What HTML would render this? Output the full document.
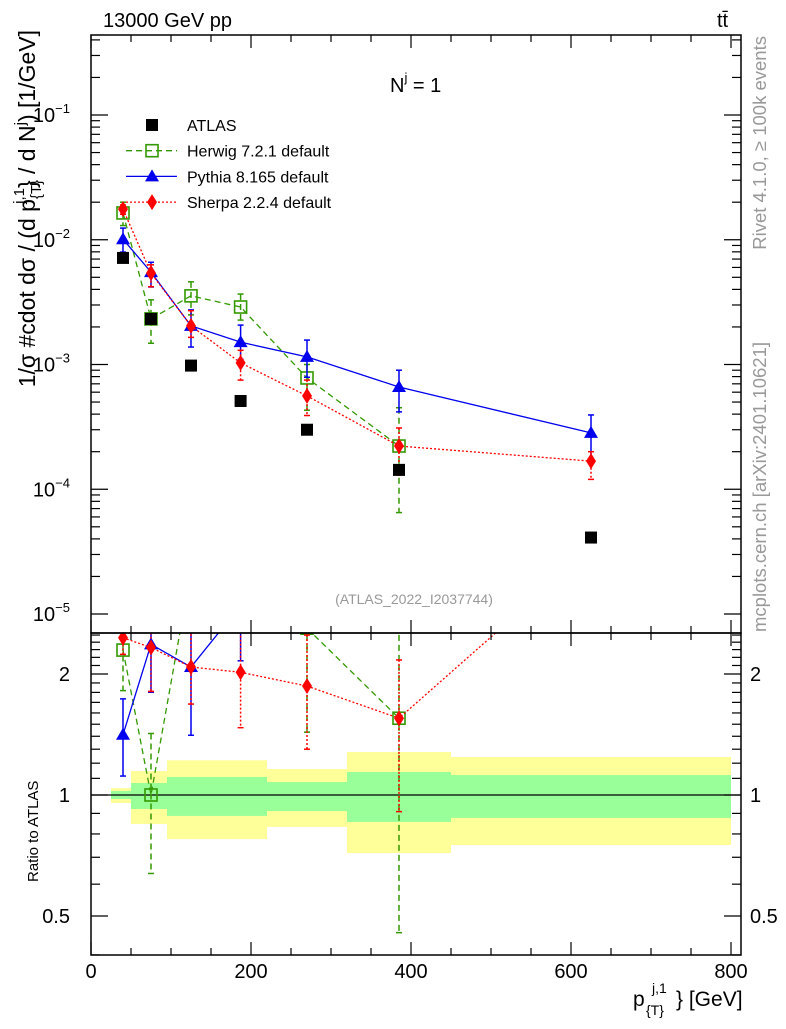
<!DOCTYPE html>
<html><head><meta charset="utf-8"><style>
body{margin:0;background:#fff}
svg{font-family:"Liberation Sans",sans-serif}
</style></head><body>
<svg id="c" width="786" height="1024" viewBox="0 0 786 1024" xmlns="http://www.w3.org/2000/svg">
<defs>
<clipPath id="mainClip"><rect x="91" y="35" width="650" height="598"/></clipPath>
<clipPath id="ratioClip"><rect x="91" y="633" width="650" height="322"/></clipPath>
</defs>
<g id="bands" clip-path="url(#ratioClip)"></g>
<line x1="91" x2="741" y1="795" y2="795" stroke="#000" stroke-width="1.2"/>
<g id="series"></g>
<g id="axes"></g>
<rect x="91" y="35" width="650" height="598" fill="none" stroke="#000" stroke-width="1.5"/>
<rect x="91" y="633" width="650" height="322" fill="none" stroke="#000" stroke-width="1.5"/>
<text x="103" y="27" font-size="20">13000 GeV pp</text>
<text x="717" y="27" font-size="20">tt̄</text>
<text x="390" y="92" font-size="20">N<tspan dy="-10" font-size="13">j</tspan><tspan dy="10"> = 1</tspan></text>
<text x="414" y="604" font-size="14" fill="#999" text-anchor="middle">(ATLAS_2022_I2037744)</text>
<text transform="translate(766,36) rotate(-90)" text-anchor="end" font-size="18.5" fill="#999">Rivet 4.1.0, ≥ 100k events</text>
<text transform="translate(766,632) rotate(-90)" font-size="18.5" fill="#999">mcplots.cern.ch [arXiv:2401.10621]</text>
<text transform="translate(35,30) rotate(-90)" text-anchor="end" font-size="23">1/σ #cdot dσ / (d p<tspan dy="6" font-size="15">{T}</tspan><tspan dx="-24" dy="-17" font-size="15">j,1</tspan><tspan dy="11">} / d N</tspan><tspan dy="-10" font-size="15">j</tspan><tspan dy="10">) [1/GeV]</tspan></text>
<text transform="translate(38,882) rotate(-90)" font-size="15">Ratio to ATLAS</text>
<g>
<text x="633" y="1006" font-size="21">p</text>
<text x="646" y="1015" font-size="14">{T}</text>
<text x="652" y="993" font-size="14">j,1</text>
<text x="676" y="1006" font-size="21">} [GeV]</text>
</g>
<g id="legend"></g>
</svg>
<script>
// ---- data ----
const xPts = [40, 75, 125, 187, 270, 385, 625];
const binEdges = [25, 50, 95, 220, 320, 450, 800];
const atlas = [7.15e-3, 2.32e-3, 9.8e-4, 5.1e-4, 3.0e-4, 1.43e-4, 4.1e-5];
const herwig = [1.64e-2, 2.32e-3, 3.55e-3, 2.89e-3, 7.8e-4, 2.22e-4, null];
const herwigHi = [2.0e-2, 3.3e-3, 4.6e-3, 3.67e-3, 1.0e-3, 4.5e-4, null];
const herwigLo = [1.3e-2, 1.48e-3, 2.5e-3, 2.27e-3, 4.3e-4, 6.5e-5, null];
const pythia = [1.01e-2, 5.5e-3, 2.04e-3, 1.51e-3, 1.15e-3, 6.6e-4, 2.83e-4];
const pythiaHi = [1.24e-2, 6.6e-3, 2.74e-3, 2.07e-3, 1.57e-3, 9.0e-4, 3.94e-4];
const pythiaLo = [7.97e-3, 4.18e-3, 1.38e-3, 1.1e-3, 7.9e-4, 4.17e-4, 1.62e-4];
const sherpa = [1.76e-2, 5.4e-3, 2.04e-3, 1.03e-3, 5.6e-4, 2.22e-4, 1.68e-4];
const sherpaHi = [1.9e-2, 6.3e-3, 2.7e-3, 1.3e-3, 7.5e-4, 3.1e-4, 2.0e-4];
const sherpaLo = [1.6e-2, 4.2e-3, 1.65e-3, 7.5e-4, 3.9e-4, 1.3e-4, 1.2e-4];
const bandYellowHi = [1.04, 1.147, 1.22, 1.16, 1.279, 1.243];
const bandYellowLo = [0.955, 0.847, 0.777, 0.833, 0.717, 0.751];
const bandGreenHi = [1.023, 1.071, 1.109, 1.077, 1.141, 1.121];
const bandGreenLo = [0.977, 0.923, 0.887, 0.912, 0.857, 0.877];
const xTicks = [0, 200, 400, 600, 800];
const mainDecades = [-5, -4, -3, -2, -1];
const ratioTicks = [0.5, 1, 2];

// ---- axes ----
const NS = "http://www.w3.org/2000/svg";
const X = v => 91 + v * 0.8;
const Y = v => 115 + (-1 - Math.log10(v)) * 124.75;
const R = v => 795 - Math.log2(v) * 121;
function mk(tag, attrs, parent) {
  const e = document.createElementNS(NS, tag);
  for (const k in attrs) e.setAttribute(k, attrs[k]);
  document.getElementById(parent).appendChild(e);
  return e;
}
for (let i = 0; i < bandYellowHi.length; i++) {
  const x0 = X(binEdges[i]), w = X(binEdges[i + 1]) - x0;
  const y = mk('rect', {x: x0, y: R(bandYellowHi[i]), width: w, height: R(bandYellowLo[i]) - R(bandYellowHi[i]), fill: '#ffff99'}, 'bands');
  
  
  const g = mk('rect', {x: x0, y: R(bandGreenHi[i]), width: w, height: R(bandGreenLo[i]) - R(bandGreenHi[i]), fill: '#99ff99'}, 'bands');
  
  
}
function line(x1, y1, x2, y2, p, name) {
  const l = mk('line', {x1, y1, x2, y2, stroke: '#000', 'stroke-width': 1.2}, p);
  
  
  return l;
}
function text(x, y, s, size, anchor, p, name) {
  const t = mk('text', {x, y, 'font-size': size, 'text-anchor': anchor}, p);
  t.textContent = s;
  
  
  return t;
}
for (let v = 0; v <= 800; v += 50) {
  const len = v % 200 === 0 ? 13 : 7, x = X(v);
  line(x, 955, x, 955 - len, 'axes', 'x-tick');
  line(x, 633, x, 633 - len, 'axes', 'x-tick');
  line(x, 633, x, 633 + len, 'axes', 'x-tick');
  line(x, 35, x, 35 + len, 'axes', 'x-tick');
}
xTicks.forEach(v => text(X(v), 978, String(v), 20, 'middle', 'axes', 'x-tick-label'));
mainDecades.forEach(d => {
  for (let m = 1; m <= 9; m++) {
    const y = Y(m * Math.pow(10, d));
    if (y < 35 || y > 633) continue;
    const len = m === 1 ? 17 : 9;
    line(91, y, 91 + len, y, 'axes', 'y-tick');
    line(741, y, 741 - len, y, 'axes', 'y-tick');
  }
  const t = mk('text', {x: 70, y: Y(Math.pow(10, d)) + 7, 'font-size': 20, 'text-anchor': 'end'}, 'axes');
  
  
  t.innerHTML = '10<tspan dy="-9" font-size="13">' + (d < 0 ? '−' : '') + Math.abs(d) + '</tspan>';
});
for (let k = 4; k <= 26; k++) {
  const vv = k / 10, y = R(vv);
  if (y < 633 || y > 955) continue;
  const len = ratioTicks.includes(vv) ? 17 : 9;
  line(91, y, 91 + len, y, 'axes', 'ratio-tick');
  line(741, y, 741 - len, y, 'axes', 'ratio-tick');
}
ratioTicks.forEach(v => {
  text(70, R(v) + 7, String(v), 20, 'end', 'axes', 'ratio-tick-label');
  text(750, R(v) + 7, String(v), 20, 'start', 'axes', 'ratio-tick-label');
});

// ---- series ----
function marker(kind, x, y, color, p) {
  let e;
  if (kind === 'sq') e = mk('rect', {x: x - 6, y: y - 6, width: 12, height: 12, fill: '#000'}, p);
  else if (kind === 'osq') e = mk('rect', {x: x - 6, y: y - 6, width: 12, height: 12, fill: 'none', stroke: color, 'stroke-width': 1.6}, p);
  else if (kind === 'tri') e = mk('polygon', {points: `${x},${y - 7} ${x - 7},${y + 5} ${x + 7},${y + 5}`, fill: color}, p);
  else e = mk('polygon', {points: `${x},${y - 8} ${x - 5},${y} ${x},${y + 8} ${x + 5},${y}`, fill: color}, p);
  return e;
}
const gS = document.getElementById('series');
function clipGroup(id, name) {
  const g = document.createElementNS(NS, 'g');
  g.setAttribute('id', id);
  g.setAttribute('clip-path', name === 'main' ? 'url(#mainClip)' : 'url(#ratioClip)');
  gS.appendChild(g);
  return id;
}
const series = [
  {name: 'herwig', vals: herwig, hi: herwigHi, lo: herwigLo, color: '#339900', dash: '6,4', mk: 'osq'},
  {name: 'pythia', vals: pythia, hi: pythiaHi, lo: pythiaLo, color: '#0000ee', dash: '', mk: 'tri'},
  {name: 'sherpa', vals: sherpa, hi: sherpaHi, lo: sherpaLo, color: '#ff0000', dash: '2,2', mk: 'dia'},
];
series.forEach(s => {
  ['main', 'ratio'].forEach(panel => {
    const gid = clipGroup(s.name + '-' + panel, panel);
    const fy = panel === 'main' ? (v, i) => Y(v) : (v, i) => R(v / atlas[i]);
    const pts = [];
    s.vals.forEach((v, i) => { if (v != null) pts.push([X(xPts[i]), fy(v, i)]); });
    const pl = mk('polyline', {points: pts.map(p => p.join(',')).join(' '), fill: 'none', stroke: s.color, 'stroke-width': 1.3, 'stroke-dasharray': s.dash}, gid);
    
    
    s.vals.forEach((v, i) => {
      if (v == null) return;
      const x = X(xPts[i]);
      const eb = mk('line', {x1: x, x2: x, y1: fy(s.hi[i], i), y2: fy(s.lo[i], i), stroke: s.color, 'stroke-width': 1.5, 'stroke-dasharray': s.dash}, gid);
      
      
      [s.hi[i], s.lo[i]].forEach(e => {
        const cap = mk('line', {x1: x - 3, x2: x + 3, y1: fy(e, i), y2: fy(e, i), stroke: s.color, 'stroke-width': 1.5}, gid);
        
        
      });
      const m = marker(s.mk, x, fy(v, i), s.color, gid);
      
      
    });
  });
});
const gA = clipGroup('atlas-main', 'main');
atlas.forEach((v, i) => {
  const m = marker('sq', X(xPts[i]), Y(v), '#000', gA);
  
  
});

// ---- legend ----
const legendLabels = ['ATLAS', 'Herwig 7.2.1 default', 'Pythia 8.165 default', 'Sherpa 2.2.4 default'];
const legendStyles = [{mk: 'sq', color: '#000', dash: null}, series[0], series[1], series[2]];
legendLabels.forEach((lab, i) => {
  const y = 125 + i * 25.7;
  if (legendStyles[i].dash !== null) {
    const l = mk('line', {x1: 126, x2: 177, y1: y, y2: y, stroke: legendStyles[i].color, 'stroke-width': 1.3, 'stroke-dasharray': legendStyles[i].dash}, 'legend');
    
    
  }
  const m = marker(legendStyles[i].mk, 152, y, legendStyles[i].color, 'legend');
  
  
  text(187, y + 6, lab, 16, 'start', 'legend', 'legend-entry');
});
</script>
</body></html>
